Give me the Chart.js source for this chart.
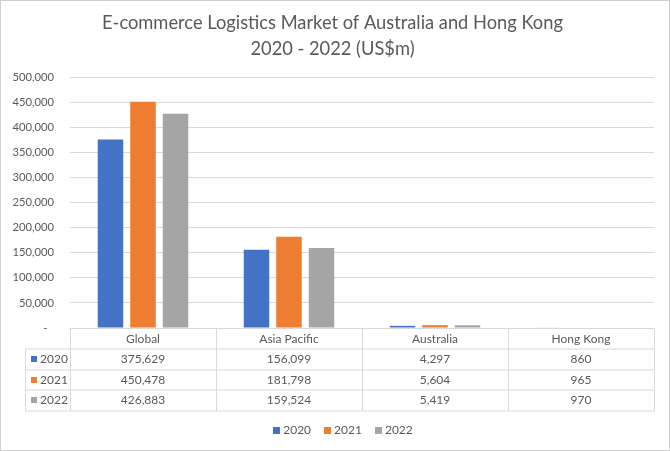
<!DOCTYPE html>
<html><head><meta charset="utf-8">
<script src="https://cdn.jsdelivr.net/npm/chart.js@4.4.0/dist/chart.umd.min.js"></script>
<style>html,body{margin:0;padding:0;background:#fff}#wrap{width:670px;height:451px;position:relative}</style>
</head><body><div id="wrap"><canvas id="c" width="670" height="451"></canvas></div>
<script>
const categories = ['Global', 'Asia Pacific', 'Australia', 'Hong Kong'];
const seriesNames = ['2020', '2021', '2022'];
const values2020 = [375629, 156099, 4297, 860];
const values2021 = [450478, 181798, 5604, 965];
const values2022 = [426883, 159524, 5419, 970];
const yMin = 0, yMax = 500000, yStep = 50000;
const titleLines = ['E-commerce Logistics Market of Australia and Hong Kong', '2020 - 2022 (US$m)'];
const seriesColors = ['#4472C4', '#ED7D31', '#A5A5A5'];

const FONT = 'Lato';
const TEXT = '#595959';
const LINE = '#D9D9D9';

function fmt(v) { return v.toLocaleString('en-US'); }

const borderPlugin = {
  id: 'outerBorder',
  beforeDraw(chart) {
    const ctx = chart.ctx;
    ctx.save();
    ctx.strokeStyle = '#D0D0D0';
    ctx.lineWidth = 1;
    ctx.strokeRect(0.5, 0.5, chart.width - 1, chart.height - 1);
    ctx.restore();
  }
};

const tablePlugin = {
  id: 'dataTable',
  afterDraw(chart) {
    const ctx = chart.ctx;
    const area = chart.chartArea;
    const xs = chart.scales.x;
    const colW = xs.getPixelForValue(1) - xs.getPixelForValue(0);
    const rowH = 20.5;
    const top = Math.round(area.bottom) + 0.5;
    const labelLeft = 25.5;
    const left = Math.round(area.left) - 0.5;
    const right = Math.round(area.right) + 0.5;
    const nRows = chart.data.datasets.length;
    const bottom = top + rowH * (nRows + 1);
    ctx.save();
    ctx.strokeStyle = LINE;
    ctx.lineWidth = 1;
    ctx.beginPath();
    ctx.moveTo(left, top); ctx.lineTo(right, top);
    for (let r = 1; r <= nRows + 1; r++) {
      const y = Math.round(top + rowH * r);
      ctx.moveTo(labelLeft, y); ctx.lineTo(right, y);
    }
    ctx.moveTo(labelLeft, Math.round(top + rowH)); ctx.lineTo(labelLeft, Math.round(bottom));
    for (let i = 0; i <= chart.data.labels.length; i++) {
      const x = Math.round(xs.getPixelForValue(i) - colW / 2) + 0.5;
      ctx.moveTo(x, top); ctx.lineTo(x, Math.round(bottom));
    }
    ctx.stroke();

    ctx.fillStyle = TEXT;
    ctx.font = '12px ' + FONT;
    ctx.textBaseline = 'middle';
    ctx.textAlign = 'center';
    chart.data.labels.forEach((lab, i) => {
      ctx.fillText(lab, xs.getPixelForValue(i), top + rowH / 2);
    });
    chart.data.datasets.forEach((ds, r) => {
      const yc = top + rowH * (r + 1) + rowH / 2;
      ctx.textAlign = 'center';
      ctx.fillStyle = TEXT;
      ds.data.forEach((v, i) => {
        ctx.fillText(fmt(v), xs.getPixelForValue(i), yc);
      });
      ctx.fillStyle = ds.backgroundColor;
      ctx.fillRect(31, Math.round(yc) - 3, 6, 6);
      ctx.fillStyle = TEXT;
      ctx.textAlign = 'left';
      ctx.fillText(ds.label, 40, yc);
    });

    const ly = 430;
    const box = 7, gapBox = 3, gapItem = 13;
    const widths = chart.data.datasets.map(ds => box + gapBox + ctx.measureText(ds.label).width);
    const total = widths.reduce((a, b) => a + b, 0) + gapItem * (widths.length - 1);
    let x = 343 - total / 2;
    chart.data.datasets.forEach((ds, r) => {
      ctx.fillStyle = ds.backgroundColor;
      ctx.fillRect(Math.round(x), ly - 3, box, box);
      ctx.fillStyle = TEXT;
      ctx.textAlign = 'left';
      ctx.fillText(ds.label, x + box + gapBox, ly + 0.5);
      x += widths[r] + gapItem;
    });
    ctx.restore();
  }
};

const seriesValues = [values2020, values2021, values2022];

new Chart(document.getElementById('c'), {
  type: 'bar',
  data: {
    labels: categories,
    datasets: seriesNames.map((name, i) => ({
      label: name,
      data: seriesValues[i],
      backgroundColor: seriesColors[i],
      borderWidth: 0,
      categoryPercentage: 0.668,
      barPercentage: 0.785
    }))
  },
  options: {
    responsive: false,
    animation: false,
    devicePixelRatio: 1,
    layout: { padding: { top: 0, left: 11, right: 16, bottom: 123 } },
    plugins: {
      legend: { display: false },
      tooltip: { enabled: false },
      title: {
        display: true,
        text: titleLines,
        color: TEXT,
        font: { family: FONT, size: 18.3, weight: 'normal', lineHeight: 26 / 18.3 },
        padding: { top: 10, bottom: 15 }
      }
    },
    scales: {
      x: { display: false },
      y: {
        min: yMin, max: yMax,
        border: { display: false },
        grid: { color: LINE, lineWidth: 1, drawTicks: false },
        ticks: {
          stepSize: yStep,
          padding: 16,
          color: TEXT,
          font: { family: FONT, size: 11.2 },
          callback: v => v === 0 ? '-\u2007' : fmt(v)
        },
        afterFit(scale) { scale.width = 59; }
      }
    }
  },
  plugins: [borderPlugin, tablePlugin]
});
</script>
</body></html>
